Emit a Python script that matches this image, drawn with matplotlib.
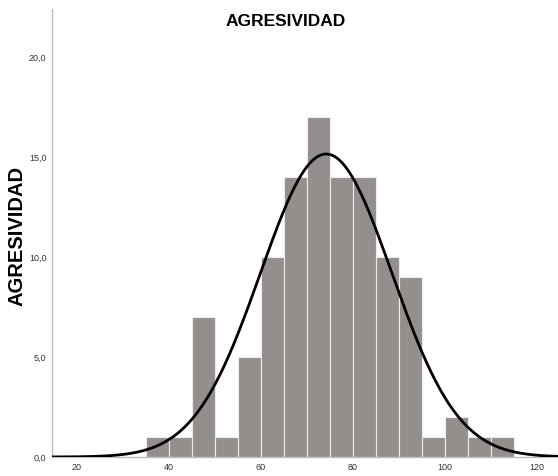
import matplotlib

matplotlib.use("Agg")
import matplotlib.pyplot as plt
import numpy as np

# histogram bins (left edges) and counts
bin_edges = [35, 40, 45, 50, 55, 60, 65, 70, 75, 80, 85, 90, 95, 100, 105, 110, 115]
counts = [1, 1, 7, 1, 5, 10, 14, 17, 14, 14, 10, 9, 1, 2, 1, 1]

# normal curve overlay, parameters
curve_mean = 74.2
curve_sd = 14.3
curve_area = 15.15 * curve_sd * np.sqrt(2 * np.pi)

x_ticks = [20, 40, 60, 80, 100, 120]
y_ticks = [0, 5, 10, 15, 20]
y_tick_labels = ["0,0", "5,0", "10,0", "15,0", "20,0"]

narrow = ["Liberation Sans Narrow", "Liberation Sans", "DejaVu Sans"]

fig = plt.figure(figsize=(5.58, 4.76), dpi=100)
ax = fig.add_axes([52 / 558, 19 / 476, 506 / 558, 448 / 476])

widths = np.diff(bin_edges)
ax.bar(bin_edges[:-1], counts, width=widths, align="edge",
       color="#948f8d", edgecolor="#ececec", linewidth=0.8, zorder=2)

xs = np.linspace(14, 126, 600)
ys = curve_area / (curve_sd * np.sqrt(2 * np.pi)) * np.exp(-0.5 * ((xs - curve_mean) / curve_sd) ** 2)
ax.plot(xs, ys, color="black", linewidth=2.0, zorder=3)

ax.set_xlim(14.6, 124.6)
ax.set_ylim(0, 22.4)
ax.set_xticks(x_ticks)
ax.set_xticklabels([str(t) for t in x_ticks], family=narrow, fontsize=6.5, color="#333333")
ax.set_yticks(y_ticks)
ax.set_yticklabels(y_tick_labels, family=narrow, fontsize=6.5, color="#333333")
ax.tick_params(length=0, pad=4)

for side in ["top", "right"]:
    ax.spines[side].set_visible(False)
for side in ["left", "bottom"]:
    ax.spines[side].set_color("#bdbdbd")
    ax.spines[side].set_linewidth(1.0)

fig.text(286 / 558, 1 - 22 / 476, "AGRESIVIDAD", ha="center", va="center",
         family=narrow, fontsize=12.5, fontweight="bold")
fig.text(17 / 558, 1 - 236 / 476, "AGRESIVIDAD", ha="center", va="center",
         rotation=90, family=["Liberation Sans", "DejaVu Sans"], fontsize=14.5,
         fontweight="bold")

fig.savefig("out.png", dpi=100)
